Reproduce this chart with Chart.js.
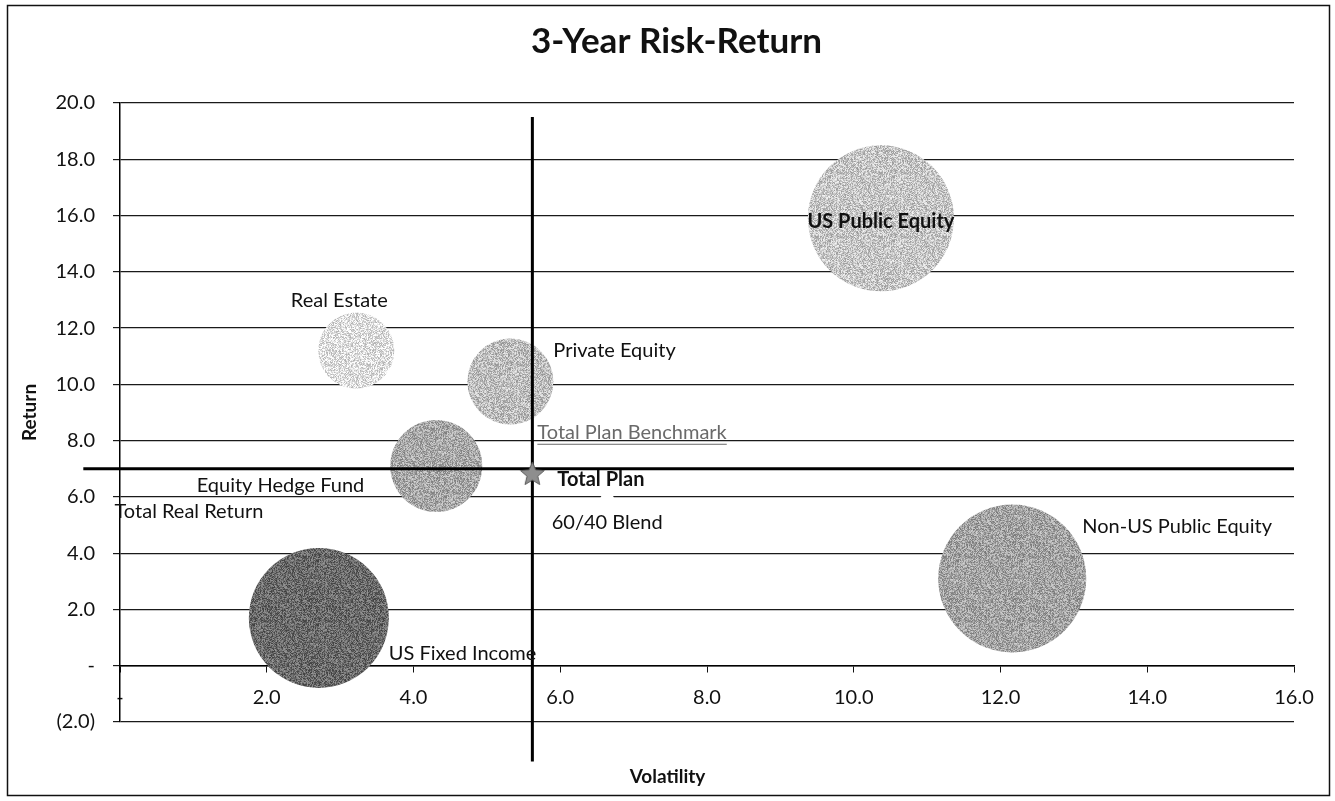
<!DOCTYPE html>
<html>
<head>
<meta charset="utf-8">
<script src="https://cdn.jsdelivr.net/npm/chart.js@4.4.0/dist/chart.umd.min.js"></script>
<style>
  html, body { margin: 0; padding: 0; background: #fff; }
  #wrap { width: 1335px; height: 801px; position: relative; }
</style>
</head>
<body>
<div id="wrap"><canvas id="myChart"></canvas></div>
<script>
// asset classes (bubbles)
const assetNames = ['US Public Equity', 'Non-US Public Equity', 'Real Estate', 'Private Equity', 'Equity Hedge Fund', 'US Fixed Income'];
const assetVolatility = [10.37, 12.16, 3.22, 5.32, 4.31, 2.71];
const assetReturn = [15.9, 3.1, 11.2, 10.1, 7.1, 1.7];
const assetSize = [73, 74, 38, 43, 46, 70];

// points with hidden markers
const otherNames = ['Total Real Return', '60/40 Blend'];
const otherVolatility = [0.98, 6.64];
const otherReturn = [6.45, 5.9];

// total plan (star) and benchmark cross lines
const planVolatility = 5.62;
const planReturn = 6.8;
const benchVolatility = 5.62;
const benchReturn = 7.0;
const benchReturnSpan = [19.5, -3.4];
const benchVolatilitySpan = [-0.5, 16.0];

const xTickLabels = ['-', '2.0', '4.0', '6.0', '8.0', '10.0', '12.0', '14.0', '16.0'];
const yTickLabels = ['(2.0)', '-', '2.0', '4.0', '6.0', '8.0', '10.0', '12.0', '14.0', '16.0', '18.0', '20.0'];

const FONT = 'Lato, "Open Sans", sans-serif';
const bubbleTones = [[198, 198, 198], [163, 163, 163], [222, 222, 222], [190, 190, 190], [168, 168, 168], [106, 106, 106]];

const labelStyle = {
  'US Public Equity':     { dx: 0,   dy: 3,   align: 'center', bold: true },
  'Non-US Public Equity': { dx: 70,  dy: -52, align: 'left' },
  'Real Estate':          { dx: -17, dy: -50, align: 'center' },
  'Private Equity':       { dx: 43,  dy: -31, align: 'left' },
  'Equity Hedge Fund':    { dx: -72, dy: 20,  align: 'right' },
  'US Fixed Income':      { dx: 70,  dy: 36,  align: 'left' },
  'Total Real Return':    { dx: -3,  dy: 27,  align: 'center' },
  '60/40 Blend':          { dx: 0,   dy: 23,  align: 'center' },
  'Total Plan':           { dx: 25,  dy: 5,   align: 'left', bold: true },
  'Total Plan Benchmark': { dx: 5,   dy: -36, align: 'left', color: '#6a6a6a', underline: true }
};

// grainy fill, like the printed halftone of the original
function grain(rgb) {
  const c = document.createElement('canvas');
  c.width = 64; c.height = 64;
  const g = c.getContext('2d');
  const img = g.createImageData(64, 64);
  for (let y = 0; y < 64; y++) {
    for (let x = 0; x < 64; x++) {
      let h = (x * 374761393 + y * 668265263) | 0;
      h = Math.imul(h ^ (h >>> 13), 1274126177);
      const d = ((h ^ (h >>> 16)) & 255) / 255 - 0.5;
      const k = (y * 64 + x) * 4;
      for (let j = 0; j < 3; j++) img.data[k + j] = Math.max(0, Math.min(255, rgb[j] + d * 90));
      img.data[k + 3] = 255;
    }
  }
  g.putImageData(img, 0, 0);
  return g.createPattern(c, 'repeat');
}

// filled five point star used as the Total Plan marker
function makeStar(size) {
  const c = document.createElement('canvas');
  c.width = size; c.height = size;
  const g = c.getContext('2d');
  const cx = size / 2, cy = size / 2, ro = size / 2 - 1, ri = ro * 0.45;
  g.beginPath();
  for (let i = 0; i < 10; i++) {
    const r = i % 2 ? ri : ro;
    const a = -Math.PI / 2 + i * Math.PI / 5;
    g.lineTo(cx + r * Math.cos(a), cy + r * Math.sin(a));
  }
  g.closePath();
  g.fillStyle = '#8e8e8e';
  g.fill();
  g.strokeStyle = '#5a5a5a';
  g.lineWidth = 1;
  g.stroke();
  return c;
}

const frame = {
  id: 'frame',
  beforeDraw(chart) {
    const ctx = chart.ctx;
    ctx.save();
    ctx.fillStyle = '#fff';
    ctx.fillRect(0, 0, chart.width, chart.height);
    ctx.strokeStyle = '#111';
    ctx.lineWidth = 1.5;
    ctx.strokeRect(7.5, 5.5, 1322, 790);
    // chart title
    ctx.font = 'bold 35px ' + FONT;
    ctx.fillStyle = '#111';
    ctx.textAlign = 'center';
    ctx.textBaseline = 'middle';
    ctx.fillText('3-Year Risk-Return', chart.width / 2 + 9, 42);
    ctx.restore();
  }
};

const pointLabels = {
  id: 'pointLabels',
  afterDatasetsDraw(chart) {
    const ctx = chart.ctx;
    const xs = chart.scales.x, ys = chart.scales.y;
    const items = [];
    assetNames.forEach((n, i) => items.push([n, assetVolatility[i], assetReturn[i]]));
    otherNames.forEach((n, i) => items.push([n, otherVolatility[i], otherReturn[i]]));
    items.push(['Total Plan', planVolatility, planReturn]);
    items.push(['Total Plan Benchmark', benchVolatility, benchReturn]);
    ctx.save();
    ctx.textBaseline = 'middle';
    items.forEach(([name, vx, vy]) => {
      const s = labelStyle[name];
      const px = xs.getPixelForValue(vx) + s.dx;
      const py = ys.getPixelForValue(vy) + s.dy;
      ctx.font = (s.bold ? 'bold ' : '') + '20px ' + FONT;
      ctx.fillStyle = s.color || '#111';
      ctx.textAlign = s.align;
      ctx.fillText(name, px, py);
      if (s.underline) {
        const w = ctx.measureText(name).width;
        ctx.strokeStyle = s.color;
        ctx.lineWidth = 1;
        ctx.beginPath();
        ctx.moveTo(px, py + 11.5);
        ctx.lineTo(px + w, py + 11.5);
        ctx.stroke();
      }
    });
    // x axis title
    ctx.font = 'bold 19px ' + FONT;
    ctx.fillStyle = '#111';
    ctx.textAlign = 'center';
    ctx.fillText('Volatility', chart.width / 2, chart.chartArea.bottom + 55);
    ctx.restore();
  }
};

const ctx = document.getElementById('myChart').getContext('2d');

new Chart(ctx, {
  type: 'bubble',
  data: {
    datasets: [
      {
        type: 'scatter',
        label: 'Total Plan',
        data: [{ x: planVolatility, y: planReturn }],
        pointStyle: makeStar(27),
        pointRadius: 13,
        order: 0
      },
      {
        type: 'line',
        label: 'Benchmark volatility',
        data: benchReturnSpan.map(v => ({ x: benchVolatility, y: v })),
        borderColor: '#000',
        borderWidth: 3,
        pointRadius: 0,
        clip: false,
        order: 1
      },
      {
        type: 'line',
        label: 'Benchmark return',
        data: benchVolatilitySpan.map(v => ({ x: v, y: benchReturn })),
        borderColor: '#000',
        borderWidth: 3,
        pointRadius: 0,
        clip: false,
        order: 1
      },
      {
        type: 'scatter',
        label: 'Other',
        data: otherNames.map((n, i) => ({ x: otherVolatility[i], y: otherReturn[i] })),
        backgroundColor: '#fff',
        borderWidth: 0,
        pointRadius: 7,
        order: 2
      },
      {
        label: 'Asset classes',
        data: assetNames.map((n, i) => ({ x: assetVolatility[i], y: assetReturn[i], r: assetSize[i] })),
        backgroundColor: bubbleTones.map(grain),
        borderWidth: 0,
        order: 3
      }
    ]
  },
  options: {
    responsive: true,
    maintainAspectRatio: false,
    animation: false,
    events: [],
    layout: { autoPadding: false, padding: { left: 8, right: 41, top: 103, bottom: 79 } },
    scales: {
      x: {
        type: 'linear',
        position: { y: 0 },
        min: 0,
        max: 16,
        ticks: {
          stepSize: 2,
          color: '#111',
          font: { family: FONT, size: 20 },
          padding: 14,
          maxRotation: 0,
          callback: (v, i) => xTickLabels[i]
        },
        grid: { drawOnChartArea: false, drawTicks: true, tickLength: 6, color: '#111' },
        border: { display: true, color: '#000', width: 1.5 }
      },
      y: {
        type: 'linear',
        min: -2,
        max: 20,
        afterFit: s => { s.width = 112; },
        ticks: {
          stepSize: 2,
          color: '#111',
          font: { family: FONT, size: 20 },
          padding: 18,
          callback: (v, i) => yTickLabels[i]
        },
        grid: { color: '#1a1a1a', lineWidth: 1.2, tickLength: 7 },
        border: { display: true, color: '#000', width: 1.5 },
        title: {
          display: true,
          text: 'Return',
          color: '#111',
          font: { family: FONT, size: 19, weight: 'bold' },
          padding: { top: 10, bottom: 0 }
        }
      }
    },
    plugins: {
      legend: { display: false },
      tooltip: { enabled: false },
      title: { display: false }
    }
  },
  plugins: [frame, pointLabels]
});
</script>
</body>
</html>
